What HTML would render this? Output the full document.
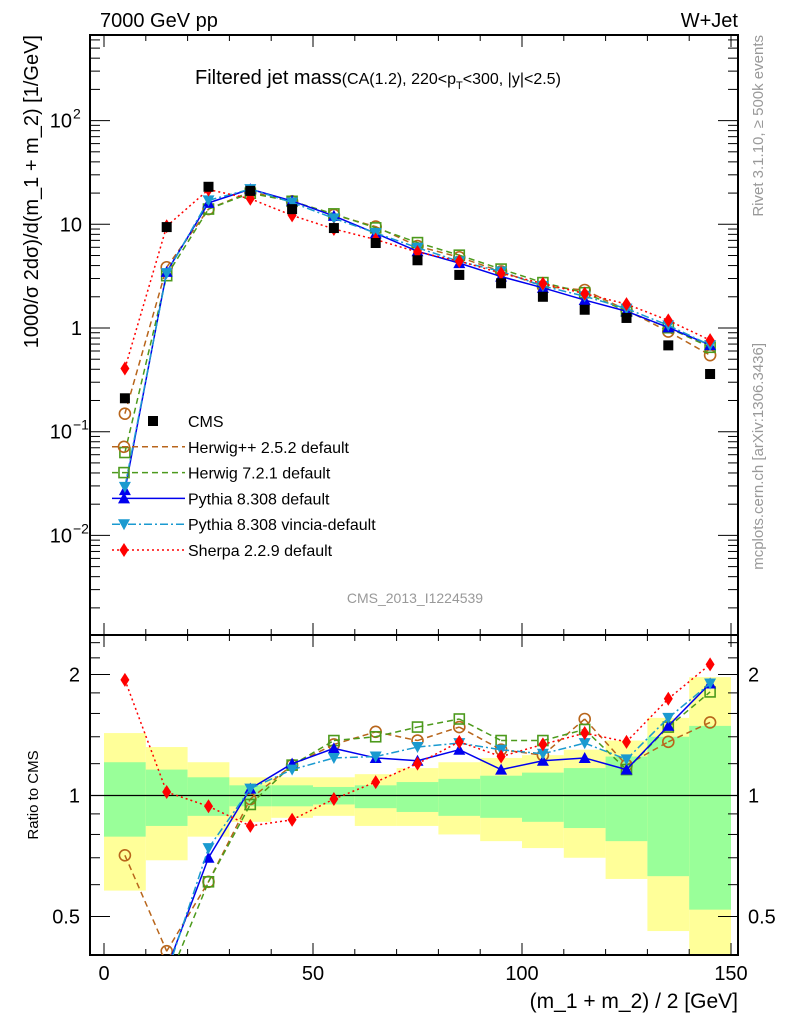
<!DOCTYPE html>
<html><head><meta charset="utf-8"><style>
html,body{margin:0;padding:0;background:#fff;overflow:hidden;width:786px;height:1024px;}
svg{display:block;font-family:"Liberation Sans",sans-serif;}
</style></head><body>
<svg id="c" width="786" height="1024" xmlns="http://www.w3.org/2000/svg"></svg>
<script>
const centers=[5,15,25,35,45,55,65,75,85,95,105,115,125,135,145];
const binEdges=[0,10,20,30,40,50,60,70,80,90,100,110,120,130,140,150];
const cmsValues=[0.21,9.4,23,21,14,9.2,6.6,4.5,3.25,2.7,2.0,1.5,1.25,0.68,0.36];
const herwigPPRatio=[0.71,0.41,0.61,0.98,1.19,1.34,1.44,1.37,1.48,1.30,1.26,1.55,1.19,1.36,1.52];
const herwig7Ratio=[0.30,0.34,0.61,0.95,1.19,1.37,1.40,1.48,1.55,1.37,1.37,1.46,1.16,1.48,1.81];
const pythiaRatio=[0.13,0.37,0.70,1.04,1.20,1.31,1.24,1.22,1.30,1.16,1.22,1.24,1.16,1.49,1.90];
const vinciaRatio=[0.14,0.36,0.74,1.04,1.16,1.24,1.25,1.32,1.35,1.30,1.27,1.35,1.23,1.56,1.90];
const sherpaRatio=[1.94,1.02,0.94,0.84,0.87,0.98,1.08,1.20,1.36,1.25,1.34,1.43,1.36,1.74,2.12];
const statUp=[1.21,1.16,1.11,1.06,1.06,1.05,1.06,1.08,1.10,1.12,1.14,1.17,1.25,1.40,1.49];
const statDn=[0.79,0.84,0.89,0.94,0.94,0.95,0.93,0.91,0.89,0.88,0.86,0.83,0.77,0.63,0.52];
const totUp=[1.43,1.32,1.21,1.11,1.11,1.11,1.13,1.17,1.21,1.24,1.26,1.30,1.37,1.56,1.97];
const totDn=[0.58,0.69,0.79,0.86,0.88,0.89,0.84,0.84,0.80,0.77,0.74,0.70,0.62,0.46,0.35];
const yTickLabels=["10^-2","10^-1","1","10","10^2"];
const ratioTicks=[0.5,1,2];
const xTicks=[0,50,100,150];

const svg=document.getElementById('c');
const NS='http://www.w3.org/2000/svg';
function el(t,a,p){const e=document.createElementNS(NS,t);for(const k in a)e.setAttribute(k,a[k]);(p||svg).appendChild(e);return e;}
const L=90,R=738,T1=35,B1=635,T2=635,B2=955;
const X=v=>104+(v)*(731-104)/150;
const Y1=v=>328-103.7*Math.log10(v);
const Y2=v=>795.5-121*Math.log2(v);

const defs=el('defs',{});
const cp1=el('clipPath',{id:'cp1'},defs);el('rect',{x:L,y:T1,width:R-L,height:B1-T1},cp1);
const cp2=el('clipPath',{id:'cp2'},defs);el('rect',{x:L,y:T2,width:R-L,height:B2-T2},cp2);

const bands=el('g',{'clip-path':'url(#cp2)'});


for(let i=0;i<centers.length;i++){
  const yt=Math.max(T2,Y2(totUp[i])),yb=Math.min(B2,Y2(totDn[i]));
  const r1=el('rect',{x:X(binEdges[i]),y:yt,width:X(binEdges[i+1])-X(binEdges[i]),height:yb-yt,fill:'#ffff99'},bands);
  
  
  const st=Math.max(T2,Y2(statUp[i])),sb=Math.min(B2,Y2(statDn[i]));
  const r2=el('rect',{x:X(binEdges[i]),y:st,width:X(binEdges[i+1])-X(binEdges[i]),height:sb-st,fill:'#99ff99'},bands);
  
  
}
el('line',{x1:L,x2:R,y1:Y2(1),y2:Y2(1),stroke:'#000','stroke-width':1.2});

for(const [t,b] of [[T1,B1],[T2,B2]]){
  const f=el('rect',{x:L,y:t,width:R-L,height:b-t,fill:'none',stroke:'#000','stroke-width':2});
  
  
  for(let v=0;v<=150;v+=10){
    const len=v%50==0?12:6;
    el('line',{x1:X(v),x2:X(v),y1:t,y2:t+len,stroke:'#000','stroke-width':1});
    el('line',{x1:X(v),x2:X(v),y1:b,y2:b-len,stroke:'#000','stroke-width':1});
  }
}
for(let d=-3;d<=2;d++){for(let m=1;m<10;m++){const v=m*Math.pow(10,d);const y=Y1(v);if(y<T1||y>B1)continue;const len=m==1?20:10;
  el('line',{x1:L,x2:L+len,y1:y,y2:y,stroke:'#000'});el('line',{x1:R,x2:R-len,y1:y,y2:y,stroke:'#000'});}}
const ylab=[[-2,"10",'-2'],[-1,"10",'-1'],[0,"1",''],[1,"10",''],[2,"10",'2']];
ylab.forEach(([d,b,s],i)=>{const y=Y1(Math.pow(10,d));
  const t=el('text',{x:s?72:82,y:y+7,'text-anchor':'end','font-size':20});t.textContent=b;
  
  
  if(s){const u=el('text',{x:73,y:y-2,'font-size':14});u.textContent=s.replace('-','\u2212');}
});
for(const v of [0.4,0.5,0.6,0.7,0.8,0.9,1,1.2,1.4,1.6,1.8,2,2.2,2.4]){const y=Y2(v);if(y<T2||y>B2)continue;const len=(v==0.5||v==1||v==2)?20:10;
  el('line',{x1:L,x2:L+len,y1:y,y2:y,stroke:'#000'});el('line',{x1:R,x2:R-len,y1:y,y2:y,stroke:'#000'});}
ratioTicks.forEach(v=>{const y=Y2(v);
  const a=el('text',{x:80,y:y+7,'text-anchor':'end','font-size':20});a.textContent=String(v);
  
  
  const b=el('text',{x:748,y:y+7,'font-size':20});b.textContent=String(v);
  
  
});
xTicks.forEach(v=>{const t=el('text',{x:X(v),y:980,'text-anchor':'middle','font-size':20});t.textContent=String(v);
  
  });

function marker(g,type,x,y,col){
  if(type=='sq')el('rect',{x:x-5,y:y-5,width:10,height:10,fill:col},g);
  else if(type=='osq')el('rect',{x:x-5,y:y-5,width:10,height:10,fill:'none',stroke:col,'stroke-width':1.6},g);
  else if(type=='oc')el('circle',{cx:x,cy:y,r:5.5,fill:'none',stroke:col,'stroke-width':1.6},g);
  else if(type=='tu')el('polygon',{points:`${x},${y-6} ${x-6},${y+5} ${x+6},${y+5}`,fill:col},g);
  else if(type=='td')el('polygon',{points:`${x},${y+6} ${x-6},${y-5} ${x+6},${y-5}`,fill:col},g);
  else if(type=='dm')el('polygon',{points:`${x},${y-7} ${x-4.5},${y} ${x},${y+7} ${x+4.5},${y}`,fill:col},g);
}
// clip polyline to [top,bot] vertically; returns list of point-strings
function clipLine(pts,top,bot){
  const out=[];
  for(let i=0;i<pts.length-1;i++){
    let [x1,y1]=pts[i],[x2,y2]=pts[i+1];
    const cl=(xa,ya,xb,yb)=>{
      if(ya>bot){const f=(bot-ya)/(yb-ya);return [xa+(xb-xa)*f,bot];}
      if(ya<top){const f=(top-ya)/(yb-ya);return [xa+(xb-xa)*f,top];}
      return [xa,ya];};
    if((y1>bot&&y2>bot)||(y1<top&&y2<top))continue;
    const a=cl(x1,y1,x2,y2),b=cl(x2,y2,x1,y1);
    out.push([a,b]);
  }
  return out;
}
const series=[
 {name:'herwigpp',r:herwigPPRatio,col:'#b8651b',m:'oc',dash:'6,4',label:'Herwig++ 2.5.2 default'},
 {name:'herwig7',r:herwig7Ratio,col:'#4c9a1c',m:'osq',dash:'6,4',label:'Herwig 7.2.1 default'},
 {name:'pythia',r:pythiaRatio,col:'#0000ee',m:'tu',dash:'',label:'Pythia 8.308 default'},
 {name:'vincia',r:vinciaRatio,col:'#1a9ad0',m:'td',dash:'8,3,2,3',label:'Pythia 8.308 vincia-default'},
 {name:'sherpa',r:sherpaRatio,col:'#ff0000',m:'dm',dash:'2,3',label:'Sherpa 2.2.9 default'}];

series.forEach(s=>{
  for(const [clip,Yf,val,top,bot] of [['cp1',Y1,i=>cmsValues[i]*s.r[i],T1,B1],['cp2',Y2,i=>s.r[i],T2,B2]]){
    const g=el('g',{'clip-path':`url(#${clip})`});
    
    
    const pts=centers.map((c,i)=>[X(c),Yf(val(i))]);
    const segs=clipLine(pts,top,bot);
    const d=segs.map(([a,b])=>`M${a[0]},${a[1]}L${b[0]},${b[1]}`).join('');
    const pl=el('path',{d:d,fill:'none',stroke:s.col,'stroke-width':1.5,'stroke-dasharray':s.dash},g);
    
    
    pts.forEach(([x,y])=>{if(y>=top-4&&y<=bot+4)marker(g,s.m,x,y,s.col);});
  }
});
const cg=el('g',{'clip-path':'url(#cp1)'});


centers.forEach((c,i)=>marker(cg,'sq',X(c),Y1(cmsValues[i]),'#000'));

const lg=el('g',{});


const ly0=421;
marker(lg,'sq',153,ly0,'#000');
let t0=el('text',{x:188,y:ly0+6,'font-size':16},lg);t0.textContent='CMS';
series.forEach((s,i)=>{const y=ly0+25.8*(i+1);
  el('line',{x1:112,x2:185,y1:y,y2:y,stroke:s.col,'stroke-width':1.5,'stroke-dasharray':s.dash},lg);
  marker(lg,s.m,124,y,s.col);
  const t=el('text',{x:188,y:y+6,'font-size':16},lg);t.textContent=s.label;
  
  
});

function txt(x,y,s,a){const t=el('text',Object.assign({x,y},a));t.textContent=s;return t;}
let t;
t=txt(100,27,'7000 GeV pp',{'font-size':20});
t=txt(738,27,'W+Jet',{'font-size':20,'text-anchor':'end'});
t=el('text',{x:195,y:84,'font-size':20});
t.innerHTML='Filtered jet mass<tspan font-size="16">(CA(1.2), 220&lt;p</tspan><tspan font-size="11" dy="5">T</tspan><tspan font-size="16" dy="-5">&lt;300, |y|&lt;2.5)</tspan>';
t=txt(415,603,'CMS_2013_I1224539',{'font-size':14,fill:'#999','text-anchor':'middle'});
t=txt(738,1008,'(m_1 + m_2) / 2 [GeV]',{'font-size':21,'text-anchor':'end'});
t=txt(0,0,'1000/σ 2dσ)/d(m_1 + m_2) [1/GeV]',{'font-size':20,'text-anchor':'end',transform:'translate(38,35) rotate(-90)'});
t=txt(0,0,'Ratio to CMS',{'font-size':15,'text-anchor':'middle',transform:'translate(38,795) rotate(-90)'});
t=txt(0,0,'Rivet 3.1.10, ≥ 500k events',{'font-size':15,fill:'#999','text-anchor':'end',transform:'translate(763,35) rotate(-90)'});
t=txt(0,0,'mcplots.cern.ch [arXiv:1306.3436]',{'font-size':15,fill:'#999','text-anchor':'end',transform:'translate(763,343) rotate(-90)'});
</script>
</body></html>
